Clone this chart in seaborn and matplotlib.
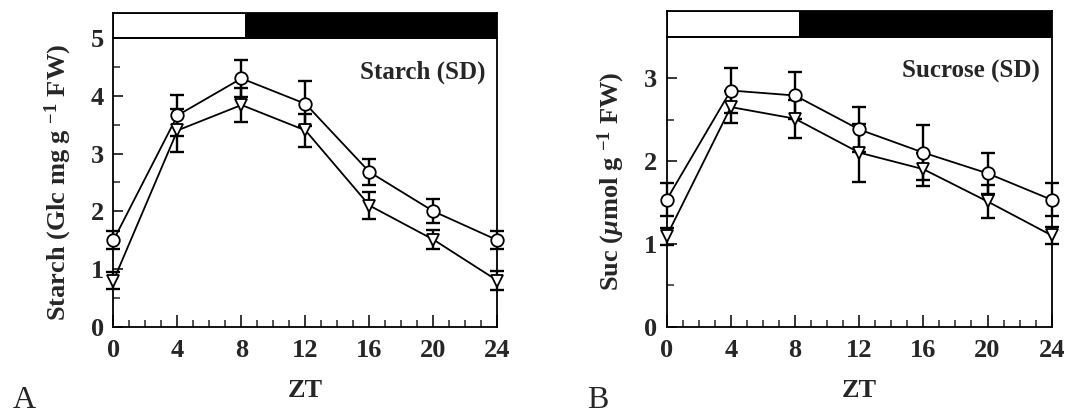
import numpy as np
import pandas as pd
import matplotlib
matplotlib.use("Agg")
import matplotlib.pyplot as plt
from matplotlib.ticker import MultipleLocator
import seaborn as sns

zt = [0, 4, 8, 12, 16, 20, 24]
starch_circ = [1.50, 3.66, 4.30, 3.86, 2.68, 2.00, 1.50]
starch_circ_err = [0.16, 0.36, 0.32, 0.39, 0.23, 0.21, 0.16]
starch_tri = [0.80, 3.40, 3.84, 3.40, 2.10, 1.51, 0.80]
starch_tri_err = [0.15, 0.37, 0.30, 0.28, 0.23, 0.17, 0.16]

suc_circ = [1.53, 2.85, 2.79, 2.38, 2.10, 1.85, 1.53]
suc_circ_err = [0.20, 0.27, 0.28, 0.27, 0.33, 0.25, 0.20]
suc_tri = [1.09, 2.65, 2.51, 2.10, 1.90, 1.51, 1.10]
suc_tri_err = [0.10, 0.19, 0.23, 0.35, 0.20, 0.20, 0.10]

light_segments = [(0, 8.3, "white"), (8.3, 24, "black")]

sns.set_theme(style="ticks")
plt.rcParams['font.family'] = ['Liberation Serif', 'DejaVu Serif']
plt.rcParams['mathtext.fontset'] = 'custom'
plt.rcParams['mathtext.rm'] = 'Liberation Serif:bold'
plt.rcParams['mathtext.it'] = 'Liberation Serif:italic:bold'
plt.rcParams['mathtext.bf'] = 'Liberation Serif:bold'

FS = 18

fig = plt.figure(figsize=(10.91, 4.17), dpi=100)

panels = [
    dict(rect=[0.104, 0.216, 0.352, 0.693], bar_h=0.061, ylim=5, ymaj=1,
         circ=starch_circ, circ_err=starch_circ_err, tri=starch_tri, tri_err=starch_tri_err,
         ylabel="Starch (Glc mg g $^{\\mathbf{-1}}$ FW)", title="Starch (SD)", letter="A", lx=0.012),
    dict(rect=[0.611, 0.217, 0.353, 0.695], bar_h=0.062, ylim=3.5, ymaj=1,
         circ=suc_circ, circ_err=suc_circ_err, tri=suc_tri, tri_err=suc_tri_err,
         ylabel="Suc ($\\mu$mol g $^{\\mathbf{-1}}$ FW)", title="Sucrose (SD)", letter="B", lx=0.538),
]

for p in panels:
    ax = fig.add_axes(p["rect"])
    df = pd.DataFrame({"ZT": zt * 2,
                       "val": p["circ"] + p["tri"],
                       "grp": ["c"] * 7 + ["t"] * 7})
    for vals, errs in ((p["circ"], p["circ_err"]), (p["tri"], p["tri_err"])):
        eb = ax.errorbar(zt, vals, yerr=errs, fmt="none", ecolor="black",
                         elinewidth=1.7, capsize=5, capthick=1.7, zorder=2)
        for art in eb.get_children():
            art.set_clip_on(False)
    sns.lineplot(data=df, x="ZT", y="val", style="grp", markers={"c": "o", "t": "v"},
                 dashes=False, color="black", linewidth=1.3, markersize=9,
                 markerfacecolor="white", markeredgecolor="black", markeredgewidth=1.3,
                 legend=False, ax=ax, zorder=3, clip_on=False)
    ax.set_xlim(0, 24)
    ax.set_ylim(0, p["ylim"])
    ax.xaxis.set_major_locator(MultipleLocator(4))
    ax.xaxis.set_minor_locator(MultipleLocator(1))
    ax.yaxis.set_major_locator(MultipleLocator(p["ymaj"]))
    ax.yaxis.set_minor_locator(MultipleLocator(0.5))
    ax.tick_params(which="major", direction="in", length=9, width=1.3, labelsize=FS + 1, pad=9)
    ax.tick_params(which="minor", direction="in", length=5, width=1.1)
    ax.tick_params(axis="y", which="major", length=7, pad=7)
    for lab in ax.get_xticklabels() + ax.get_yticklabels():
        lab.set_fontweight("bold")
    for s in ax.spines.values():
        s.set_linewidth(1.3)
        s.set_color("black")
    ax.set_xlabel("ZT", fontsize=FS + 1, fontweight="bold", labelpad=12)
    ax.set_ylabel(p["ylabel"], fontsize=FS + 1, fontweight="bold", labelpad=12)
    ax.text(0.97, 0.88, p["title"], transform=ax.transAxes, ha="right", va="center",
            fontsize=FS, fontweight="bold")

    r = p["rect"]
    bax = fig.add_axes([r[0], r[1] + r[3], r[2], p["bar_h"]])
    for start, end, col in light_segments:
        bax.barh(0, end - start, left=start, height=1, color=col, edgecolor="black", linewidth=1.3)
    bax.set_xlim(0, 24)
    bax.set_ylim(-0.5, 0.5)
    bax.set_xticks([]); bax.set_yticks([])
    for s in bax.spines.values():
        s.set_linewidth(1.3)
        s.set_color("black")

    fig.text(p["lx"], 0.005, p["letter"], fontsize=23, ha="left", va="bottom")

fig.savefig("out.png", dpi=100)
